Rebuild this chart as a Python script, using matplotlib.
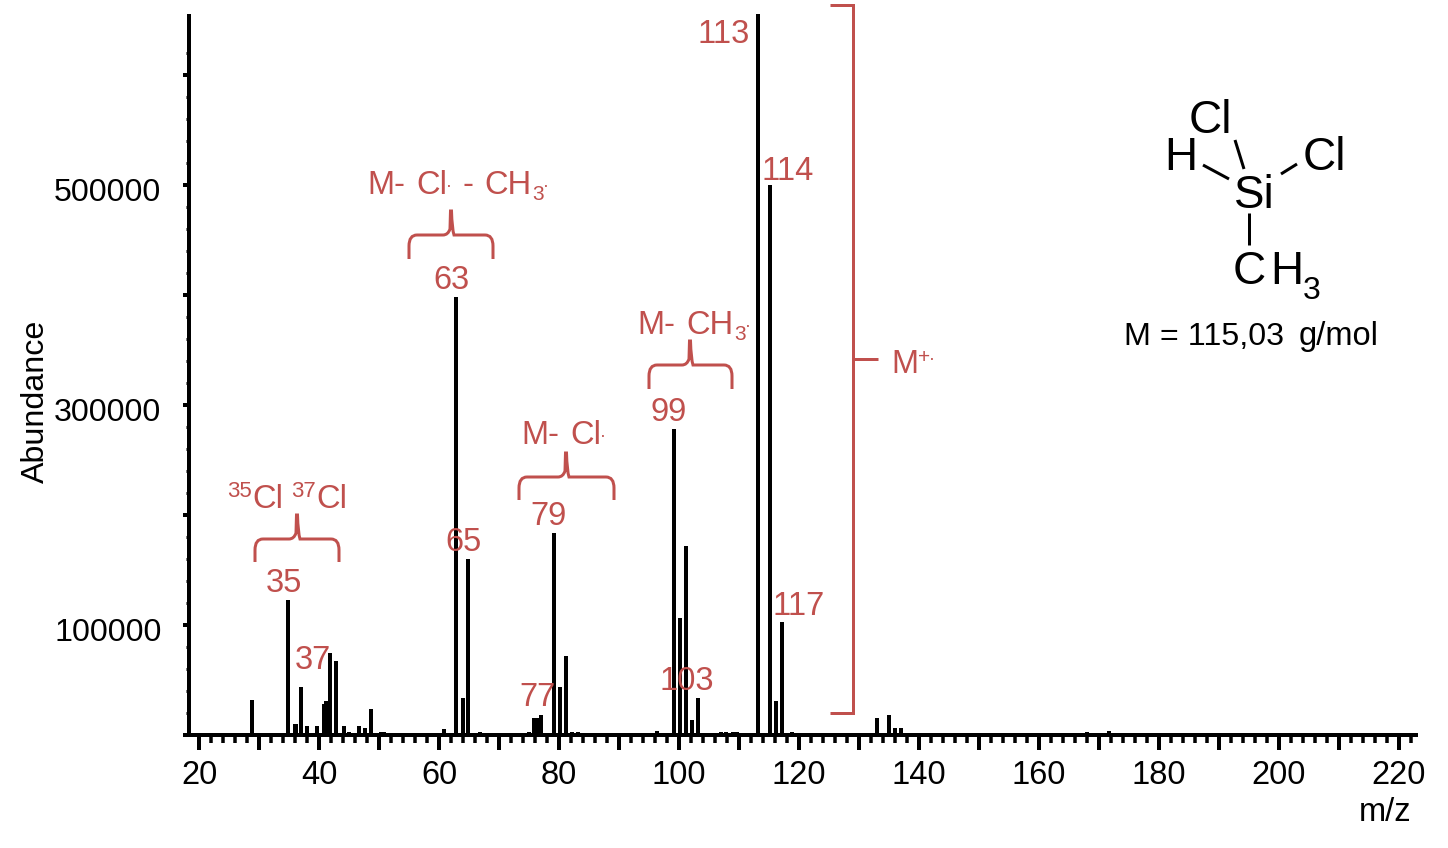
import matplotlib
matplotlib.use("Agg")
import matplotlib.pyplot as plt
from matplotlib.path import Path
from matplotlib.patches import PathPatch
from matplotlib.lines import Line2D
from matplotlib.transforms import ScaledTranslation

plt.rcParams['font.family'] = ['Liberation Sans', 'DejaVu Sans']

# spectrum
mz = [28.8, 34.8, 36, 36.2, 37, 38, 39.6, 40.8, 41.1, 41.8, 42.9, 44.1, 45, 46.7, 47.6, 48.6,
      50.4, 50.8, 57.8, 59.7, 60.2, 60.9, 62.85, 64.05, 64.85, 66.8, 75, 75.9, 76.3, 77, 79.1, 80.1, 81.1,
      82.1, 83.1, 94.6, 96.3, 99.1, 100.1, 101.1, 102.2, 103.1, 107, 107.9, 109, 109.6, 113.1, 115.1, 116.1, 117.1,
      118.8, 133, 135, 136, 137, 168, 169.4, 170.4, 171.7]
abundance = [31800, 122700, 10000, 10000, 43600, 8000, 8000, 28500, 31000, 74500, 67300, 8000, 2700,
             8000, 6000, 23600, 2500, 2500, 1500, 1500, 1500, 5000, 398000, 33600, 160000, 3000, 2500,
             15500, 15000, 18000, 183600, 43600, 71800, 2700, 2700, 1500, 4000, 278000, 106000, 171800,
             13600, 33600, 2500, 2700, 2500, 2700, 700000, 500000, 31000, 102700, 2500, 15500, 18000,
             6500, 6500, 2500, 2000, 2000, 4000]

x_major = list(range(20, 230, 10))
x_labels = [str(v) if v % 20 == 0 else "" for v in x_major]
x_minor = list(range(20, 224, 2))
y_major = [0, 100000, 200000, 300000, 400000, 500000, 600000]
y_labels = ["", "100000", "", "300000", "", "500000", ""]
y_minor = list(range(0, 640000, 20000))

W, H = 1448, 848
RED = "#C0504D"
px = 0.72  # points per pixel at dpi 100
FS = 23.5

fig = plt.figure(figsize=(W / 100, H / 100), dpi=100)
ax = fig.add_axes([189 / W, 1 - 735 / H, (1418 - 189) / W, (735 - 14) / H])

ax.vlines(mz, 0, abundance, color="black", lw=4 * px)
ax.set_xlim(18.33, 223.17)
ax.set_ylim(0, 655450)

for s in ["top", "right"]:
    ax.spines[s].set_visible(False)
for s in ["left", "bottom"]:
    ax.spines[s].set_linewidth(4 * px)
    ax.spines[s].set_capstyle("butt")

ax.set_xticks(x_major, x_labels, fontsize=FS)
ax.set_xticks(x_minor, minor=True)
ax.set_yticks(y_major, y_labels, fontsize=23.2)
ax.set_yticks(y_minor, minor=True)
ax.tick_params(axis="x", which="major", length=15 * px, width=4 * px, pad=7)
ax.tick_params(axis="x", which="minor", length=8 * px, width=3.5 * px)
ax.tick_params(axis="y", which="major", length=6 * px, width=4 * px, pad=15.5)
ax.tick_params(axis="y", which="minor", length=3.5 * px, width=3 * px)
# y labels sit a bit under their ticks in the original
for lab in ax.get_yticklabels():
    lab.set_transform(lab.get_transform() + ScaledTranslation(0, -5 * px / 72, fig.dpi_scale_trans))

ax.set_ylabel("Abundance", fontsize=23.2)
ax.yaxis.set_label_coords((51 - 189) / 1229, (735 - 401) / 721)
ax.set_xlabel("m/z", fontsize=FS)
ax.xaxis.set_label_coords((1385 - 189) / 1229, (735 - 797) / 721)


def txt(x, y, s, size=FS, color=RED, ha="left"):
    # x, y are picture pixels, y is the baseline
    fig.text(x / W, 1 - y / H, s, fontsize=size, color=color, ha=ha, va="baseline")


def seg(points, color=RED, lw=3):
    xs = [p[0] / W for p in points]
    ys = [1 - p[1] / H for p in points]
    fig.add_artist(Line2D(xs, ys, color=color, lw=lw * px, transform=fig.transFigure,
                          solid_capstyle="butt", solid_joinstyle="miter"))


def brace(xl, xr, xm, bottom, bar, tip):
    r = 6
    pts = [(xl, bottom), (xl, bar + r + 5), (xl, bar), (xl + r + 2, bar),
           (xm - 8, bar), (xm - 3, bar), (xm - 1, bar - 6), (xm - 0.5, tip),
           (xm, tip), (xm + 0.5, tip), (xm + 1, bar - 6), (xm + 3, bar), (xm + 8, bar),
           (xr - r - 2, bar), (xr, bar), (xr, bar + r + 5), (xr, bottom)]
    pts = [(p[0] / W, 1 - p[1] / H) for p in pts]
    codes = [Path.MOVETO, Path.LINETO, Path.CURVE3, Path.CURVE3,
             Path.LINETO, Path.CURVE3, Path.CURVE3, Path.LINETO,
             Path.LINETO, Path.LINETO, Path.CURVE3, Path.CURVE3, Path.LINETO,
             Path.LINETO, Path.CURVE3, Path.CURVE3, Path.LINETO]
    fig.add_artist(PathPatch(Path(pts, codes), fc="none", ec=RED, lw=3 * px,
                             transform=fig.transFigure, capstyle="butt"))


# peak labels
txt(697, 43, "113")
txt(762, 180, "114")
txt(773, 615, "117")
txt(266, 592, "35")
txt(295, 669, "37")
txt(433, 289, "63")
txt(445, 551, "65")
txt(519, 706, "77")
txt(530, 525, "79")
txt(650, 421, "99")
txt(659, 690, "103")

# fragment labels
txt(367, 194, "M-")
txt(416, 194, "Cl")
txt(446, 191, "·", 13)
txt(462, 194, "-")
txt(484, 194, "CH")
txt(532, 200, "3", 15)
txt(543, 191, "·", 13)

txt(637, 334, "M-")
txt(686, 334, "CH")
txt(734, 340, "3", 15)
txt(745, 331, "·", 13)

txt(521, 444, "M-")
txt(570, 444, "Cl")
txt(600, 441, "·", 13)

txt(227, 497, "35", 16)
txt(252, 508, "Cl")
txt(291, 497, "37", 16)
txt(316, 508, "Cl")

brace(255, 339, 297, 562, 539, 515)
brace(409, 493, 451, 259, 235, 211)
brace(519, 614, 566, 500, 477, 453)
brace(649, 732, 690, 389, 365, 341)

seg([(830, 5), (853, 5), (853, 713), (830, 713)])
seg([(853, 359), (878, 359)])
txt(891, 373, "M")
txt(918, 363, "+", 15)
txt(929, 364, "·", 13)

# structure
k = "black"
txt(1189, 133, "Cl", 33, k)
txt(1164, 170, "H", 33, k)
txt(1303, 170, "Cl", 33, k)
txt(1234, 208, "Si", 33, k)
txt(1233, 284, "C", 33, k)
txt(1270, 284, "H", 33, k)
txt(1303, 299, "3", 23, k)
txt(1124, 345, "M = 115,03", 23.2, k)
txt(1299, 345, "g/mol", FS, k)
seg([(1235, 140), (1244, 169)], k)
seg([(1203, 165), (1229, 179)], k)
seg([(1281, 174), (1297, 164)], k)
seg([(1249, 213), (1249, 245)], k)

fig.savefig("out.png", dpi=100)
